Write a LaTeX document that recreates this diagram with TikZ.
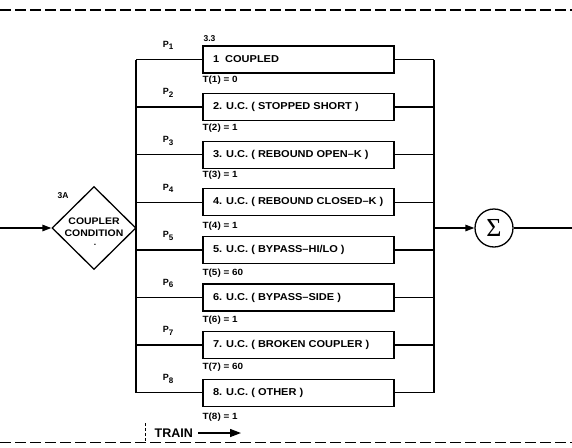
\documentclass[tikz,border=0pt]{standalone}
\usepackage{fontspec}
\setmainfont{Liberation Sans}
\newfontfamily\bxfont{Liberation Sans}[FakeStretch=1.1]
\newfontfamily\sgfont{Liberation Serif}
\usetikzlibrary{shapes.geometric,arrows.meta}
\begin{document}
\begin{tikzpicture}[x=1pt,y=-1pt,line width=1.3pt,
  box/.style={draw,minimum width=191pt,minimum height=27pt,inner sep=0pt},
  boxtxt/.style={anchor=west,inner sep=0pt,font=\bxfont\bfseries\fontsize{10}{11}\selectfont},
  tlab/.style={anchor=west,inner sep=0pt,font=\bxfont\bfseries\fontsize{9}{10}\selectfont},
  plab/.style={inner sep=0pt,font=\bfseries\fontsize{9}{10}\selectfont},
  small/.style={inner sep=0pt,font=\bfseries\fontsize{8.5}{9}\selectfont},
  border/.style={dash pattern=on 11pt off 4pt,line width=1.3pt},
  arr/.style={-{Triangle[length=9pt,width=6.5pt]}}
]
\useasboundingbox (0,0) rectangle (572,447);

% dashed frame lines
\draw[border] (0,10) -- (572,10);
\draw[border] (0,442.5) -- (572,442.5);

% diamond
\node[draw,diamond,minimum width=84pt,minimum height=83pt,inner sep=0pt] (d) at (94,228) {};
\node[inner sep=0pt,align=center,font=\bxfont\bfseries\fontsize{9.5}{12}\selectfont] (dt) at (94,227) {COUPLER\\CONDITION};
\node[small] (dd) at (95,245) {.};
\node[small] (l3a) at (63,196) {3A};
\coordinate (in) at (0,228);
\draw[arr] (in) -- (d.west);

% buses
\coordinate (lbus) at (136,228);
\coordinate (rbus) at (434,228);

% boxes
\foreach \i/\yy/\ty/\txt/\tt in {
  1/59.5/80/{1\ \ COUPLED}/{T(1) = 0},
  2/107.1/128/{2. U.C. ( STOPPED SHORT )}/{T(2) = 1},
  3/154.7/175/{3. U.C. ( REBOUND OPEN–K )}/{T(3) = 1},
  4/202.3/226/{4. U.C. ( REBOUND CLOSED–K )}/{T(4) = 1},
  5/249.9/273/{5. U.C. ( BYPASS–HI/LO )}/{T(5) = 60},
  6/297.5/320/{6. U.C. ( BYPASS–SIDE )}/{T(6) = 1},
  7/345.1/367/{7. U.C. ( BROKEN COUPLER )}/{T(7) = 60},
  8/392.7/417/{8. U.C. ( OTHER )}/{T(8) = 1}}{
  \node[box] (b\i) at (298.5,\yy) {};
  \node[boxtxt] (bt\i) at ([xshift=10pt]b\i.west) {\txt};
  \node[tlab] (t\i) at (202,\ty) {\tt};
  \node[plab] (p\i) at (168,\yy-14) {P\raisebox{-2.5pt}{\fontsize{8}{8}\selectfont\i}};
  \draw (b\i.west -| lbus) -- (b\i.west);
  \draw (b\i.east) -- (b\i.east -| rbus);
}
\node[small,anchor=south west] (l33) at (203,42) {3.3};

\draw (b1.west -| lbus) -- (b8.west -| lbus);
\draw (b1.east -| rbus) -- (b8.east -| rbus);

% sum
\node[draw,circle,minimum size=38pt,inner sep=0pt,font=\sgfont\fontsize{26}{26}\selectfont] (s) at (494,228) {Σ};
\draw[arr] (rbus) -- (s.west);
\coordinate (out) at (572,228);
\draw (s.east) -- (out);

% train
\coordinate (tr1) at (145,423);
\coordinate (tr2) at (145,442);
\draw[dash pattern=on 3pt off 2pt,line width=1pt] (tr1) -- (tr2);
\node[anchor=west,inner sep=0pt,font=\bfseries\fontsize{12.5}{13}\selectfont] (train) at (154,433) {TRAIN};
\coordinate (ta) at (241,433);
\draw[-{Triangle[length=11pt,width=8pt]}] (train.east) ++(5pt,0) -- (ta);
\end{tikzpicture}
\end{document}
